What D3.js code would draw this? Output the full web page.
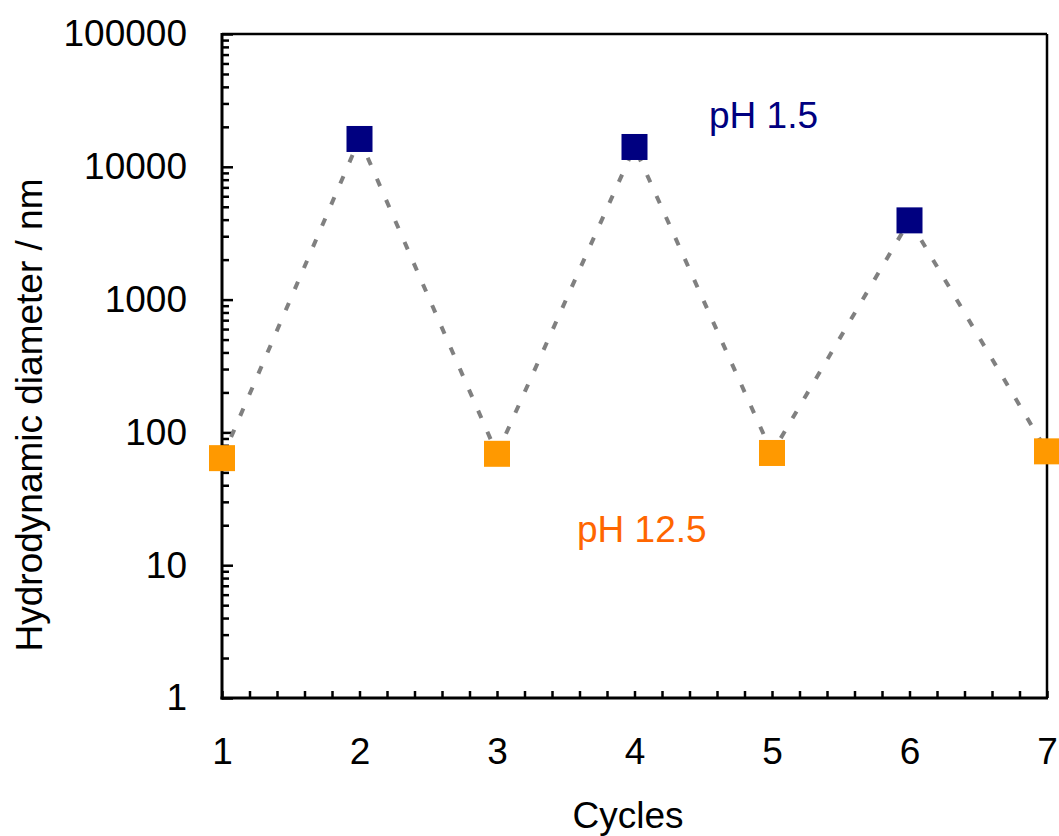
<!DOCTYPE html>
<html>
<head>
<meta charset="utf-8">
<script src="https://cdn.jsdelivr.net/npm/d3@7/dist/d3.min.js"></script>
<style>
html,body{margin:0;padding:0;background:#fff;}
text{font-family:"Liberation Sans",Arial,sans-serif;}
</style>
</head>
<body>
<svg id="chart" width="1059" height="836"></svg>
<script>
const cycles = [1, 2, 3, 4, 5, 6, 7];
const diameters = [64, 16200, 69, 14100, 70, 3950, 72];
const phLabels = ["pH 12.5", "pH 1.5", "pH 12.5", "pH 1.5", "pH 12.5", "pH 1.5", "pH 12.5"];
const yTickValues = [1, 10, 100, 1000, 10000, 100000];
const xTickValues = [1, 2, 3, 4, 5, 6, 7];

const svg = d3.select("#chart");
const L = 222, R = 1047, T = 34, B = 698;
const x = d3.scaleLinear().domain([1, 7]).range([L, R]);
const y = d3.scaleLog().domain([1, 100000]).range([B, T]);

const fs = 37;

// minor y ticks
const yMinor = [];
for (let d = 1; d < 100000; d *= 10) for (let k = 2; k <= 9; k++) yMinor.push(d * k);
svg.append("g").attr("transform", `translate(${L},0)`)
  .call(d3.axisLeft(y).tickValues(yMinor).tickSize(-7).tickFormat(""))
  .call(g => g.select(".domain").remove())
  .selectAll("line").attr("stroke", "#000").attr("stroke-width", 2.5);

// major y ticks
svg.append("g").attr("transform", `translate(${L},0)`)
  .call(d3.axisLeft(y).tickValues(yTickValues).tickSize(-11).tickPadding(35).tickFormat(d3.format("d")))
  .call(g => g.select(".domain").remove())
  .call(g => g.selectAll("line").attr("stroke", "#000").attr("stroke-width", 2.5))
  .call(g => g.selectAll("text").attr("font-size", fs).attr("fill", "#000")
    .attr("font-family", "Liberation Sans, Arial, sans-serif"));

// x minor ticks
const xMinor = d3.range(1.2, 7, 0.2).filter(v => Math.abs(v - Math.round(v)) > 1e-6);
svg.append("g").attr("transform", `translate(0,${B})`)
  .call(d3.axisBottom(x).tickValues(xMinor).tickSize(-7).tickFormat(""))
  .call(g => g.select(".domain").remove())
  .selectAll("line").attr("stroke", "#000").attr("stroke-width", 2.5);

// x major ticks
svg.append("g").attr("transform", `translate(0,${B})`)
  .call(d3.axisBottom(x).tickValues(xTickValues).tickSize(-7).tickPadding(40).tickFormat(d3.format("d")))
  .call(g => g.select(".domain").remove())
  .call(g => g.selectAll("line").attr("stroke", "#000").attr("stroke-width", 2.5))
  .call(g => g.selectAll("text").attr("font-size", fs).attr("fill", "#000")
    .attr("font-family", "Liberation Sans, Arial, sans-serif"));

// frame
svg.append("line").attr("x1", L).attr("x2", R).attr("y1", T).attr("y2", T).attr("stroke", "#000").attr("stroke-width", 2.5);
svg.append("line").attr("x1", R).attr("x2", R).attr("y1", T).attr("y2", B).attr("stroke", "#000").attr("stroke-width", 2.5);
svg.append("line").attr("x1", L).attr("x2", L).attr("y1", T - 1).attr("y2", B + 1.5).attr("stroke", "#000").attr("stroke-width", 3);
svg.append("line").attr("x1", L - 1.5).attr("x2", R + 1).attr("y1", B).attr("y2", B).attr("stroke", "#000").attr("stroke-width", 3);

// dotted connecting line
const pts = cycles.map((c, i) => ({c, v: diameters[i], ph: phLabels[i]}));
svg.append("path").datum(pts)
  .attr("d", d3.line().x(d => x(d.c)).y(d => y(d.v)))
  .attr("fill", "none").attr("stroke", "#808080").attr("stroke-width", 4)
  .attr("stroke-dasharray", "8 15");

// markers
const S = 26;
svg.selectAll("rect.pt").data(pts).enter().append("rect")
  .attr("class", "pt")
  .attr("x", d => x(d.c) - S / 2).attr("y", d => y(d.v) - S / 2)
  .attr("width", S).attr("height", S)
  .attr("fill", d => d.ph === "pH 1.5" ? "#000080" : "#FF9900");

// annotations
svg.append("text").attr("x", 709).attr("y", 128).attr("font-size", fs).attr("fill", "#000080").text("pH 1.5");
svg.append("text").attr("x", 577).attr("y", 542).attr("font-size", fs).attr("fill", "#FF6600").text("pH 12.5");

// axis titles
svg.append("text").attr("x", 628).attr("y", 828).attr("text-anchor", "middle").attr("font-size", fs).text("Cycles");
svg.append("text").attr("transform", "translate(42,415) rotate(-90)").attr("text-anchor", "middle")
  .attr("font-size", fs).text("Hydrodynamic diameter / nm");
</script>
</body>
</html>
